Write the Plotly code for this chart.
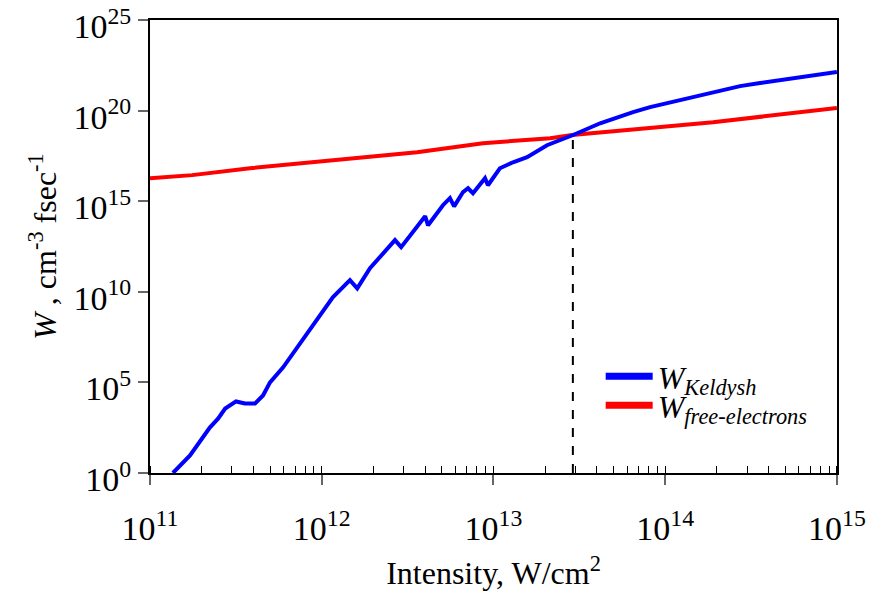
import plotly.graph_objects as go

# Keldysh ionization rate (blue)
keldysh_I = [1.36e11, 1.71e11, 2.23e11, 2.49e11, 2.74e11, 3.17e11, 3.57e11, 4.09e11,
             4.55e11, 5.0e11, 5.96e11, 7.18e11, 8.55e11, 1.16e12, 1.46e12, 1.61e12,
             1.91e12, 2.24e12, 2.67e12, 2.90e12, 3.49e12, 4.00e12, 4.16e12, 5.08e12,
             5.58e12, 5.90e12, 6.65e12, 7.11e12, 7.60e12, 8.93e12, 9.29e12, 1.09e13,
             1.30e13, 1.57e13, 2.05e13, 2.91e13, 4.18e13, 5.46e13, 6.50e13, 8.17e13,
             1.03e14, 1.60e14, 2.73e14, 3.57e14, 4.67e14, 6.98e14, 1.0e15]
keldysh_W = [1.0e0, 9.3e0, 3.2e2, 1.0e3, 3.6e3, 8.9e3, 6.9e3, 6.9e3,
             1.9e4, 1.0e5, 6.8e5, 8.5e6, 8.5e7, 5.0e9, 4.4e10, 1.55e10,
             2.0e11, 1.05e12, 7.1e12, 2.9e12, 2.5e13, 1.48e14, 4.7e13, 6.0e14,
             1.48e15, 5.2e14, 3.2e15, 5.2e15, 2.75e15, 1.86e16, 7.6e15, 6.6e16,
             1.41e17, 2.7e17, 1.23e18, 4.5e18, 2.0e19, 5.0e19, 8.3e19, 1.55e20,
             2.6e20, 7.2e20, 2.24e21, 3.3e21, 4.9e21, 8.1e21, 1.35e22]

# Free-electron rate (red)
free_I = [1.0e11, 1.76e11, 3.82e11, 7.48e11, 1.46e12, 3.59e12, 8.69e12, 2.14e13,
          2.87e13, 1.90e14, 1.0e15]
free_W = [1.86e16, 2.75e16, 6.6e16, 1.26e17, 2.4e17, 5.1e17, 1.58e18, 3.0e18,
          4.5e18, 2.3e19, 1.38e20]

# crossing marker (dashed)
cross_I = [2.9e13, 2.9e13]
cross_W = [1.0e0, 4.5e18]

x_ticks = [1e11, 1e12, 1e13, 1e14, 1e15]
x_ticktext = ["10<sup>11</sup>", "10<sup>12</sup>", "10<sup>13</sup>", "10<sup>14</sup>", "10<sup>15</sup>"]
y_ticks = [1e0, 1e5, 1e10, 1e15, 1e20, 1e25]
y_ticktext = ["10<sup>0</sup>", "10<sup>5</sup>", "10<sup>10</sup>", "10<sup>15</sup>", "10<sup>20</sup>", "10<sup>25</sup>"]

FONT = "Liberation Serif, Times New Roman, serif"

fig = go.Figure()
fig.add_trace(go.Scatter(x=cross_I, y=cross_W, mode="lines",
                         line=dict(color="black", width=2, dash="dash"), showlegend=False))
fig.add_trace(go.Scatter(x=free_I, y=free_W, mode="lines",
                         line=dict(color="#ff0000", width=4), showlegend=False))
fig.add_trace(go.Scatter(x=keldysh_I, y=keldysh_W, mode="lines",
                         line=dict(color="#0000ff", width=4), showlegend=False))
# legend entries
fig.add_trace(go.Scatter(x=[None], y=[None], mode="lines", legend="legend",
                         line=dict(color="#0000ff", width=7),
                         name="<i>W</i><sub><i>Keldysh</i></sub>"))
fig.add_trace(go.Scatter(x=[None], y=[None], mode="lines", legend="legend2",
                         line=dict(color="#ff0000", width=7),
                         name="<i>W</i><sub><i>free-electrons</i></sub>"))

leg_common = dict(xanchor="left", yanchor="top", bgcolor="rgba(0,0,0,0)",
                  font=dict(size=32), itemwidth=47)

fig.update_layout(
    width=869, height=609,
    margin=dict(l=150, r=32, t=20, b=136),
    paper_bgcolor="white", plot_bgcolor="white",
    font=dict(family=FONT, size=30, color="black"),
    showlegend=True,
    legend=dict(x=0.656, y=0.274, **leg_common),
    legend2=dict(x=0.656, y=0.21, **leg_common),
    xaxis=dict(type="log", range=[11, 15.0005], tickvals=x_ticks, ticktext=x_ticktext,
               ticks="outside", ticklen=10, tickcolor="#666666", tickwidth=2,
               minor=dict(ticks="inside", ticklen=7, tickcolor="black", tickwidth=1, dtick="D1"),
               showline=True, linecolor="black", linewidth=2, mirror=True,
               showgrid=False, zeroline=False, ticklabelstandoff=14,
               ticklabeloverflow="allow", automargin=False,
               tickfont=dict(size=34),
               title=dict(text="Intensity, W/cm<sup>2</sup>", font=dict(size=32), standoff=16)),
    yaxis=dict(type="log", range=[-0.0005, 25.0005], tickvals=y_ticks, ticktext=y_ticktext,
               ticks="outside", ticklen=10, tickcolor="#666666", tickwidth=2,
               showline=True, linecolor="black", linewidth=2, mirror=True,
               showgrid=False, zeroline=False, ticklabeloverflow="allow", automargin=False,
               ticklabelshift=6,
               tickfont=dict(size=34),
               title=dict(text="<i>W</i> , cm<sup>-3</sup> fsec<sup>-1</sup>", font=dict(size=32), standoff=7)),
)

fig.write_html("out.html")
